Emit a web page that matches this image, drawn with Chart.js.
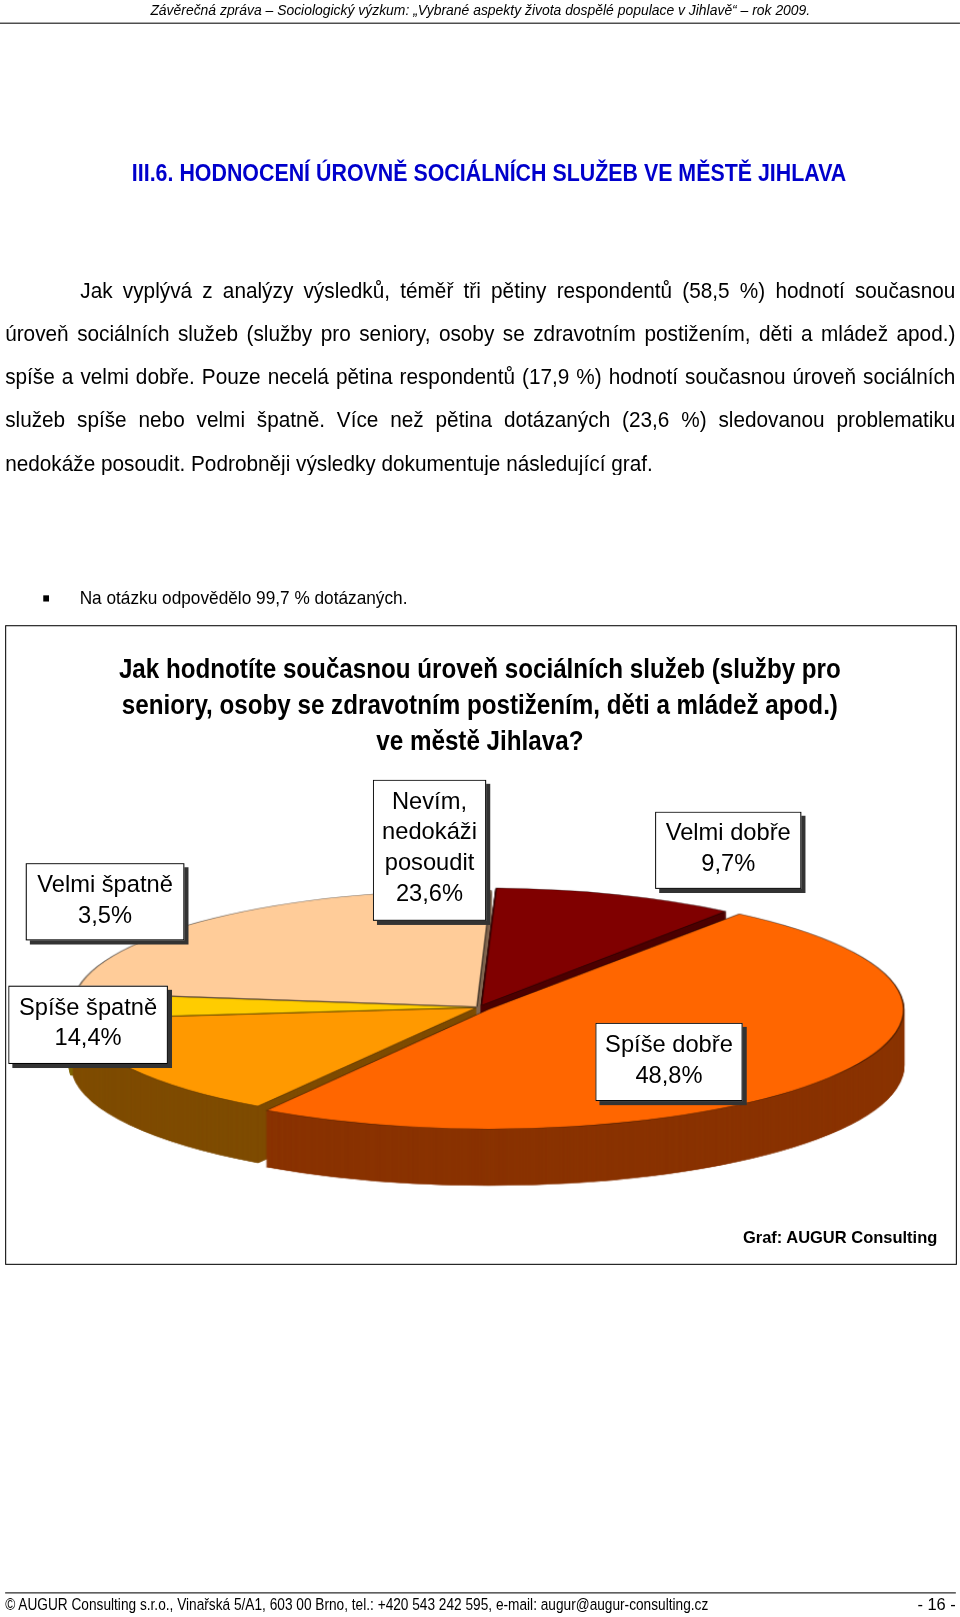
<!DOCTYPE html>
<html lang="cs">
<head>
<meta charset="UTF-8">
<title>Hodnocení úrovně sociálních služeb</title>
<script src="https://cdn.jsdelivr.net/npm/chart.js"></script>
<style>
  body { margin:0; width:960px; height:1617px; background:#fff; overflow:hidden;
         font-family:"Liberation Sans",Arial,sans-serif; color:#000; }
  #page { position:absolute; left:0; top:0; width:932px; height:1570px; transform:scale(1.03); transform-origin:0 0; }
  .nar { position:absolute; transform-origin:0 0; white-space:nowrap; }
  .hdr { left:0; top:0; width:932px; height:22px; border-bottom:1px solid #000; }
  .hdr div { left:146px; top:1px; font-size:15px; font-style:italic; transform:scaleX(0.9); }
  .title { left:128px; top:154px; font-size:24px; font-weight:bold; color:#0000cc; transform:scaleX(0.865); }
  .para { position:absolute; left:5px; top:261px; width:961px; font-size:21px; line-height:42px; text-align:justify;
          transform:scaleX(0.96); transform-origin:0 0; }
  .para p { margin:0; text-indent:76px; }
  .bullet { left:42px; top:570px; font-size:18px; transform:scaleX(0.93); }
  .bullet span { display:inline-block; width:6px; height:6px; background:#000; margin-right:32px; vertical-align:middle; }
  .frame { position:absolute; left:5px; top:607px; width:922px; height:619px; border:1px solid #000; }
  .ctitle { position:absolute; left:0; top:632px; width:1071px; text-align:center; font-size:27px; font-weight:bold; line-height:35px;
            transform:scaleX(0.87); transform-origin:0 0; }
  #wrap { position:absolute; left:25px; top:778px; width:880px; height:400px; }
  .lbl { position:absolute; background:#fff; border:1px solid #000; box-shadow:4px 4px 0 #333;
         font-size:23px; text-align:center; line-height:30px; padding:4px 4px; box-sizing:border-box; }
  .src { position:absolute; right:22px; top:1193px; font-size:16px; font-weight:bold; }
  .fline { position:absolute; left:5px; top:1546px; width:923px; border-top:1px solid #000; }
  .foot { left:5px; top:1549px; font-size:16px; transform:scaleX(0.83); }
  .pg { position:absolute; right:4px; top:1549px; font-size:16px; }
</style>
</head>
<body>
<div id="page">
<div class="nar hdr"><div class="nar">Závěrečná zpráva – Sociologický výzkum: „Vybrané aspekty života dospělé populace v Jihlavě“ – rok 2009.</div></div>
<div class="nar title">III.6. HODNOCENÍ ÚROVNĚ SOCIÁLNÍCH SLUŽEB VE MĚSTĚ JIHLAVA</div>
<div class="para"><p>Jak vyplývá z analýzy výsledků, téměř tři pětiny respondentů (58,5 %) hodnotí současnou úroveň sociálních služeb (služby pro seniory, osoby se zdravotním postižením, děti a mládež apod.) spíše a velmi dobře. Pouze necelá pětina respondentů (17,9 %) hodnotí současnou úroveň sociálních služeb spíše nebo velmi špatně. Více než pětina dotázaných (23,6 %) sledovanou problematiku nedokáže posoudit. Podrobněji výsledky dokumentuje následující graf.</p></div>
<div class="nar bullet"><span></span>Na otázku odpovědělo 99,7 % dotázaných.</div>
<div class="frame"></div>
<div class="ctitle">Jak hodnotíte současnou úroveň sociálních služeb (služby pro<br>seniory, osoby se zdravotním postižením, děti a mládež apod.)<br>ve městě Jihlava?</div>
<div id="wrap"><canvas id="pie"></canvas></div>
<div class="src">Graf: AUGUR Consulting</div>
<div class="fline"></div>
<div class="nar foot">© AUGUR Consulting s.r.o., Vinařská 5/A1, 603 00 Brno, tel.: +420 543 242 595, e-mail: augur@augur-consulting.cz</div>
<div class="pg">- 16 -</div>
</div>

<script>
const categories = ['Velmi dobře', 'Spíše dobře', 'Spíše špatně', 'Velmi špatně', 'Nevím, nedokáži posoudit'];
const values = [9.7, 48.8, 14.4, 3.5, 23.6];
const topColors = ['#800000', '#ff6600', '#ff9900', '#ffcc00', '#ffcc99'];
const sideColors = ['#4d0000', '#8a3300', '#7f4c00', '#806600', '#806650'];
const offsets = [14, 22, 6, 6, 6];
// label boxes (left, top, width, height) in page px
const labelBoxes = [
  [636, 788, 142, 75], [578, 993, 143, 76], [8, 957, 155, 76], [25, 838, 154, 75], [362, 757, 110, 137]
];

const SX = 2.08, SY = 0.6, DEPTH = 55;

const pie3d = {
  id: 'pie3d',
  beforeDatasetsDraw(chart) {
    const ctx = chart.ctx;
    const arcs = chart.getDatasetMeta(0).data;
    const cx = arcs[0].x, cy = arcs[0].y;
    const drawAll = (dy, cols) => {
      ctx.save();
      ctx.translate(cx, cy + dy);
      ctx.scale(SX, SY);
      ctx.translate(-cx, -cy);
      arcs.forEach((a, i) => {
        const o = a.options;
        const bg = o.backgroundColor, bc = o.borderColor;
        o.backgroundColor = cols[i];
        o.borderColor = dy > 0 ? cols[i] : bc;
        a.draw(ctx);
        o.backgroundColor = bg; o.borderColor = bc;
      });
      ctx.restore();
    };
    for (let d = DEPTH; d >= 1; d--) drawAll(d, sideColors);
    drawAll(0, topColors);
    return false;
  }
};

new Chart(document.getElementById('pie'), {
  type: 'pie',
  data: {
    labels: categories,
    datasets: [{
      data: values,
      backgroundColor: topColors,
      borderColor: 'rgba(0,0,0,0.5)',
      borderWidth: 0.8,
      offset: offsets
    }]
  },
  options: {
    responsive: true,
    maintainAspectRatio: false,
    animation: false,
    rotation: 2,
    events: [],
    plugins: { legend: { display: false }, tooltip: { enabled: false } }
  },
  plugins: [pie3d]
});

const page = document.getElementById('page');
categories.forEach((c, i) => {
  const b = labelBoxes[i];
  const el = document.createElement('div');
  el.className = 'lbl';
  el.style.left = b[0] + 'px'; el.style.top = b[1] + 'px';
  el.style.width = b[2] + 'px'; el.style.height = b[3] + 'px';
  const name = c.replace(', ', ',<br>').replace('nedokáži ', 'nedokáži<br>');
  el.innerHTML = name + '<br>' + values[i].toFixed(1).replace('.', ',') + '%';
  page.appendChild(el);
});
</script>
</body>
</html>
